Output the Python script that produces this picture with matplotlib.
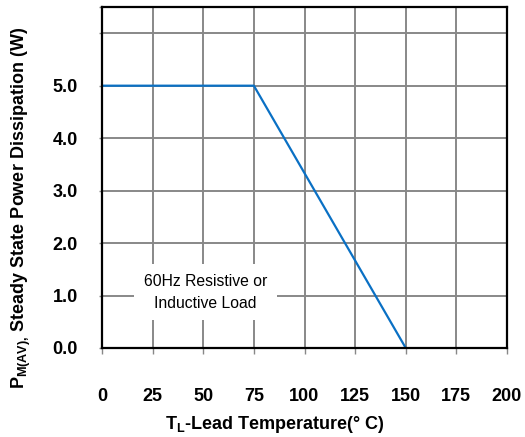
import matplotlib
matplotlib.use("Agg")
import matplotlib.pyplot as plt

plt.rcParams["font.family"] = ["Liberation Sans", "DejaVu Sans"]
plt.rcParams["mathtext.fontset"] = "custom"
plt.rcParams["mathtext.rm"] = "Liberation Sans"
plt.rcParams["mathtext.bf"] = "Liberation Sans:bold"
plt.rcParams["mathtext.default"] = "bf"

# derating curve: lead temperature (C) vs power dissipation (W)
temp_c = [0, 75, 150]
power_w = [5.0, 5.0, 0.0]

x_ticks = [0, 25, 50, 75, 100, 125, 150, 175, 200]
y_ticks = [0, 1, 2, 3, 4, 5, 6, 6.5]
y_labels = ["0.0", "1.0", "2.0", "3.0", "4.0", "5.0", "", ""]

fig = plt.figure(figsize=(5.25, 4.37), dpi=100)
ax = fig.add_axes([102 / 525, 1 - 348 / 437, 405 / 525, 341 / 437])

# grid
for x in x_ticks[1:-1]:
    ax.axvline(x, color="#888888", lw=1.4, zorder=1)
for y in y_ticks[1:-1]:
    ax.axhline(y, color="#888888", lw=1.4, zorder=1)

ax.plot(temp_c, power_w, color="#0a70c4", lw=1.6, zorder=3)

ax.set_xlim(0, 200)
ax.set_ylim(0, 6.5)
ax.set_xticks(x_ticks)
ax.set_xticklabels([str(v) for v in x_ticks], fontsize=13, fontweight="bold")
ax.set_yticks(y_ticks)
ax.set_yticklabels(y_labels, fontsize=13, fontweight="bold")
ax.tick_params(axis="x", length=4, width=1, color="#888888", pad=25)
ax.tick_params(axis="y", length=2.5, width=1, color="#888888", pad=15)

for s in ax.spines.values():
    s.set_color("black")
    s.set_linewidth(1.6)
    s.set_zorder(4)

ax.text(51, 1.06, "60Hz Resistive or\nInductive Load", ha="center", va="center",
        fontsize=11.3, linespacing=1.55, zorder=2,
        bbox=dict(facecolor="white", edgecolor="none", pad=7))

ax.set_xlabel(r"T$_{L}$-Lead Temperature(° C)", fontsize=13, fontweight="bold")
ax.xaxis.set_label_coords(0.427, -0.195)
ax.set_ylabel(r"P$_{M(AV),}\,$Steady State Power Dissipation (W)", fontsize=13, fontweight="bold")
ax.yaxis.set_label_coords(-0.17, 0.41)

fig.savefig("out.png", dpi=100)
